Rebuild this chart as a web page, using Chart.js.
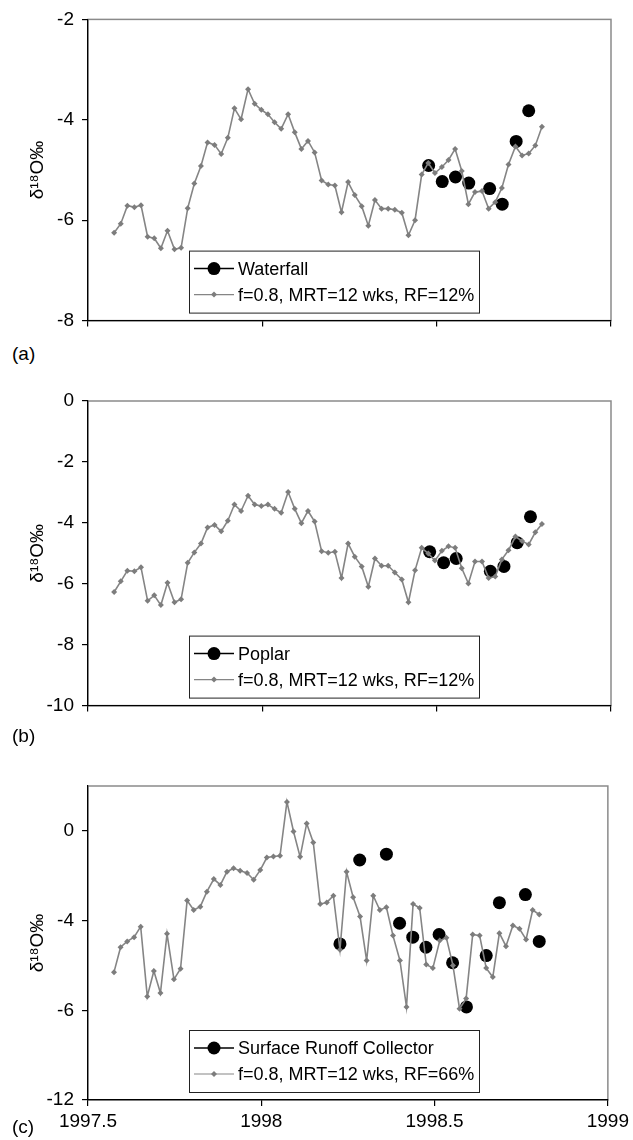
<!DOCTYPE html>
<html lang="en">
<head>
  <meta charset="UTF-8" />
  <title>δ18O observed vs modelled</title>
  <script src="https://cdn.jsdelivr.net/npm/chart.js"></script>
  <style>
    body {
      margin: 0;
      background: #fff;
      font-family: Arial, "Liberation Sans", sans-serif;
    }
    .page { position: relative; width: 633px; height: 1140px; }
    .panel { position: absolute; left: 0; width: 633px; }
    .tag { position: absolute; left: 12px; font-size: 19px; color: #000; }
  </style>
</head>
<body>
  <div class="page">
    <div class="panel" style="top:0;height:340px"><canvas id="chartA"></canvas></div>
    <div class="panel" style="top:380px;height:345px"><canvas id="chartB"></canvas></div>
    <div class="panel" style="top:740px;height:400px"><canvas id="chartC"></canvas></div>
    <div class="tag" style="top:343px">(a)</div>
    <div class="tag" style="top:725px">(b)</div>
    <div class="tag" style="top:1116px">(c)</div>
  </div>

  <script>
    // weekly model time steps (decimal year)
    const weekYears = [
      1997.575, 1997.594, 1997.613, 1997.633, 1997.652, 1997.671, 1997.690, 1997.709, 1997.728, 1997.748,
      1997.767, 1997.786, 1997.805, 1997.824, 1997.843, 1997.863, 1997.882, 1997.901, 1997.920, 1997.939,
      1997.959, 1997.978, 1997.997, 1998.016, 1998.035, 1998.054, 1998.074, 1998.093, 1998.112, 1998.131,
      1998.150, 1998.170, 1998.189, 1998.208, 1998.227, 1998.246, 1998.265, 1998.285, 1998.304, 1998.323,
      1998.342, 1998.361, 1998.380, 1998.400, 1998.419, 1998.438, 1998.457, 1998.476, 1998.495, 1998.515,
      1998.534, 1998.553, 1998.572, 1998.591, 1998.610, 1998.630, 1998.649, 1998.668, 1998.687, 1998.706,
      1998.726, 1998.745, 1998.764, 1998.783, 1998.802
    ];

    // model f=0.8, MRT=12 wks
    const modelA = [
      -6.25, -6.07, -5.71, -5.74, -5.70, -6.33, -6.36, -6.56, -6.21, -6.58,
      -6.55, -5.76, -5.27, -4.92, -4.45, -4.50, -4.68, -4.36, -3.77, -3.99,
      -3.39, -3.68, -3.80, -3.89, -4.05, -4.18, -3.89, -4.25, -4.58, -4.42,
      -4.65, -5.21, -5.29, -5.31, -5.84, -5.24, -5.50, -5.72, -6.11, -5.60,
      -5.77, -5.77, -5.79, -5.85, -6.30, -6.00, -5.09, -4.86, -5.06, -4.94,
      -4.80, -4.58, -5.02, -5.68, -5.44, -5.42, -5.77, -5.64, -5.36, -4.89,
      -4.53, -4.71, -4.67, -4.51, -4.14
    ];
    const modelB = [
      -6.27, -5.92, -5.57, -5.59, -5.46, -6.56, -6.38, -6.70, -5.97, -6.61,
      -6.51, -5.31, -4.97, -4.68, -4.15, -4.07, -4.28, -3.93, -3.40, -3.61,
      -3.11, -3.40, -3.45, -3.40, -3.54, -3.67, -2.99, -3.54, -4.01, -3.61,
      -3.96, -4.93, -4.98, -4.95, -5.81, -4.68, -5.11, -5.43, -6.10, -5.17,
      -5.41, -5.41, -5.63, -5.86, -6.61, -5.56, -4.82, -5.01, -5.24, -4.92,
      -4.77, -4.82, -5.49, -5.99, -5.27, -5.27, -5.81, -5.76, -5.20, -4.90,
      -4.45, -4.60, -4.71, -4.31, -4.04
    ];
    const modelC = [
      -6.30, -5.19, -4.93, -4.74, -4.27, -7.38, -6.25, -7.23, -4.59, -6.62,
      -6.15, -3.11, -3.53, -3.38, -2.71, -2.15, -2.41, -1.82, -1.67, -1.78,
      -1.88, -2.18, -1.75, -1.19, -1.14, -1.11, 1.29, -0.03, -1.16, 0.33,
      -0.52, -3.26, -3.19, -2.89, -5.30, -1.82, -2.96, -3.82, -5.78, -2.89,
      -3.53, -3.41, -4.67, -5.78, -7.85, -3.26, -3.44, -5.96, -6.12, -4.89,
      -4.77, -6.00, -7.93, -7.48, -4.62, -4.67, -6.12, -6.52, -4.56, -5.14,
      -4.22, -4.37, -4.84, -3.53, -3.73
    ];

    // observations
    const waterfallYears = [1998.477, 1998.516, 1998.554, 1998.592, 1998.652, 1998.688, 1998.728, 1998.764];
    const waterfallVals = [-4.91, -5.23, -5.14, -5.26, -5.37, -5.68, -4.43, -3.82];
    const poplarYears = [1998.480, 1998.520, 1998.556, 1998.654, 1998.693, 1998.731, 1998.769];
    const poplarVals = [-4.95, -5.31, -5.17, -5.59, -5.43, -4.65, -3.80];
    const runoffYears = [1998.227, 1998.284, 1998.361, 1998.399, 1998.437, 1998.475, 1998.513,
      1998.552, 1998.592, 1998.649, 1998.687, 1998.762, 1998.802];
    const runoffVals = [-5.04, -1.30, -1.04, -4.12, -4.74, -5.19, -4.62, -5.88, -7.85, -5.56, -3.20, -2.84, -4.93];

    // axes
    const xTicks = [1997.5, 1998, 1998.5, 1999];
    const xTickLabels = ['1997.5', '1998', '1998.5', '1999'];
    const yTicksA = [-8, -6, -4, -2];
    const yLabelsA = ['-8', '-6', '-4', '-2'];
    const yTicksB = [-10, -8, -6, -4, -2, 0];
    const yLabelsB = ['-10', '-8', '-6', '-4', '-2', '0'];
    const yTicksC = [-12, -8, -4, 0];
    const yLabelsC = ['-12', '-6', '-4', '0'];

    const FONT = 'Arial, "Liberation Sans", sans-serif';
    const GREY = '#858585';

    Chart.defaults.font.family = FONT;
    Chart.defaults.color = '#000';

    const plotFrame = {
      id: 'plotFrame',
      beforeDraw(chart) {
        const { ctx, chartArea: a } = chart;
        ctx.save();
        ctx.strokeStyle = '#8a8a8a';
        ctx.lineWidth = 1.5;
        ctx.strokeRect(a.left, a.top, a.right - a.left, a.bottom - a.top);
        ctx.restore();
      }
    };

    const boxLegend = {
      id: 'boxLegend',
      afterDatasetsDraw(chart) {
        const { ctx, chartArea: a } = chart;
        const w = 290, h = 62;
        const x = a.left + 101;
        const y = a.bottom - 8 - h;
        ctx.save();
        ctx.fillStyle = '#fff';
        ctx.fillRect(x, y, w, h);
        ctx.strokeStyle = '#222';
        ctx.lineWidth = 1;
        ctx.strokeRect(x + 0.5, y + 0.5, w, h);
        chart.data.datasets.forEach((ds, i) => {
          const cy = y + 18 + i * 26;
          ctx.strokeStyle = ds.legendColor;
          ctx.lineWidth = ds.legendWidth;
          ctx.beginPath();
          ctx.moveTo(x + 5, cy);
          ctx.lineTo(x + 45, cy);
          ctx.stroke();
          ctx.fillStyle = ds.pointBackgroundColor;
          ctx.beginPath();
          if (ds.pointStyle === 'circle') {
            ctx.arc(x + 25, cy, 6.5, 0, Math.PI * 2);
          } else {
            ctx.moveTo(x + 25, cy - 3);
            ctx.lineTo(x + 28, cy);
            ctx.lineTo(x + 25, cy + 3);
            ctx.lineTo(x + 22, cy);
            ctx.closePath();
          }
          ctx.fill();
          ctx.fillStyle = '#000';
          ctx.font = '18px ' + FONT;
          ctx.textBaseline = 'middle';
          ctx.fillText(ds.label, x + 49, cy + 1);
        });
        ctx.restore();
      }
    };

    function toPoints(xs, ys) {
      return xs.map((x, i) => ({ x: x, y: ys[i] }));
    }

    function makeChart(id, opts) {
      const ctx = document.getElementById(id).getContext('2d');
      return new Chart(ctx, {
        type: 'scatter',
        data: {
          datasets: [
            {
              label: opts.obsLabel,
              data: toPoints(opts.obsYears, opts.obsVals),
              showLine: false,
              pointStyle: 'circle',
              pointRadius: 6.5,
              pointBackgroundColor: '#000',
              pointBorderWidth: 0,
              legendColor: '#000',
              legendWidth: 1.5,
              order: 2
            },
            {
              label: opts.modelLabel,
              data: toPoints(weekYears, opts.model),
              showLine: true,
              borderColor: GREY,
              borderWidth: 1.6,
              pointStyle: 'rectRot',
              pointRadius: 3,
              pointBackgroundColor: '#7d7d7d',
              pointBorderWidth: 0,
              legendColor: GREY,
              legendWidth: 1.2,
              order: 1
            }
          ]
        },
        options: {
          responsive: true,
          maintainAspectRatio: false,
          animation: false,
          events: [],
          layout: { padding: { top: opts.padTop, right: 22, left: 0, bottom: 0 } },
          plugins: { legend: { display: false }, tooltip: { enabled: false } },
          scales: {
            x: {
              type: 'linear',
              min: 1997.5,
              max: 1999,
              afterBuildTicks: s => { s.ticks = xTicks.map(v => ({ value: v })); },
              afterFit: s => { s.height = opts.xHeight; },
              border: { color: '#000', width: 1.2 },
              grid: { drawOnChartArea: false, drawTicks: true, tickLength: 6, color: '#000', lineWidth: 1.2 },
              ticks: {
                display: opts.showX,
                padding: 4,
                maxRotation: 0,
                font: { size: 19 },
                callback: v => xTickLabels[xTicks.indexOf(v)]
              }
            },
            y: {
              min: opts.yTicks[0],
              max: opts.yMax,
              afterBuildTicks: s => { s.ticks = opts.yTicks.map(v => ({ value: v })); },
              afterFit: s => { s.width = 88; },
              border: { color: '#000', width: 1.2 },
              grid: { drawOnChartArea: false, drawTicks: true, tickLength: 6, color: '#000', lineWidth: 1.2 },
              ticks: {
                padding: 8,
                font: { size: 19 },
                callback: v => opts.yLabels[opts.yTicks.indexOf(v)]
              },
              title: {
                display: true,
                text: 'δ¹⁸O‰',
                font: { size: 19 },
                padding: { top: 26, bottom: 0 }
              }
            }
          }
        },
        plugins: [plotFrame, boxLegend]
      });
    }

    makeChart('chartA', {
      obsLabel: 'Waterfall', obsYears: waterfallYears, obsVals: waterfallVals,
      modelLabel: 'f=0.8, MRT=12 wks, RF=12%', model: modelA,
      yTicks: yTicksA, yLabels: yLabelsA, yMax: -2,
      padTop: 18, xHeight: 19, showX: false
    });
    makeChart('chartB', {
      obsLabel: 'Poplar', obsYears: poplarYears, obsVals: poplarVals,
      modelLabel: 'f=0.8, MRT=12 wks, RF=12%', model: modelB,
      yTicks: yTicksB, yLabels: yLabelsB, yMax: 0,
      padTop: 21, xHeight: 13, showX: false
    });
    makeChart('chartC', {
      obsLabel: 'Surface Runoff Collector', obsYears: runoffYears, obsVals: runoffVals,
      modelLabel: 'f=0.8, MRT=12 wks, RF=66%', model: modelC,
      yTicks: yTicksC, yLabels: yLabelsC, yMax: 2,
      padTop: 46, xHeight: 40, showX: true
    });
  </script>
</body>
</html>
